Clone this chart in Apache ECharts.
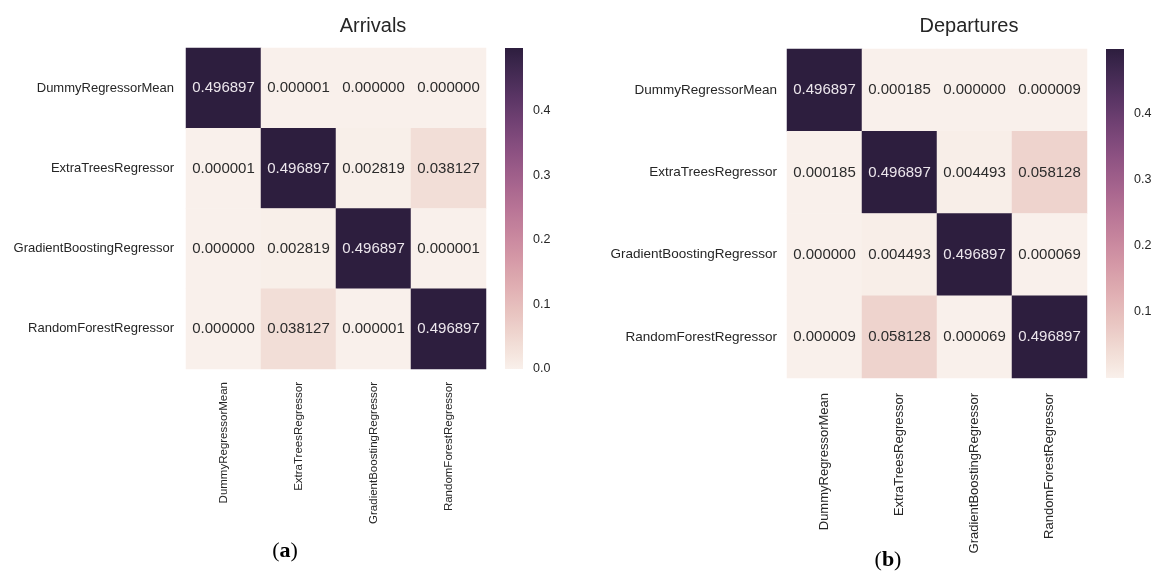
<!DOCTYPE html>
<html>
<head>
<meta charset="utf-8">
<script src="https://cdn.jsdelivr.net/npm/echarts@6/dist/echarts.min.js"></script>
<style>
  html, body { margin: 0; padding: 0; background: #ffffff; }
  #chart { width: 1155px; height: 573px; }
</style>
</head>
<body>
<div id="chart"></div>
<script>
// Model names shared by both matrices (rows top to bottom, columns left to right)
const models = ['DummyRegressorMean', 'ExtraTreesRegressor', 'GradientBoostingRegressor', 'RandomForestRegressor'];

// Pairwise values for arrivals, one array per row
const arrivalsRow0 = [0.496897, 0.000001, 0.000000, 0.000000];
const arrivalsRow1 = [0.000001, 0.496897, 0.002819, 0.038127];
const arrivalsRow2 = [0.000000, 0.002819, 0.496897, 0.000001];
const arrivalsRow3 = [0.000000, 0.038127, 0.000001, 0.496897];

// Pairwise values for departures, one array per row
const departuresRow0 = [0.496897, 0.000185, 0.000000, 0.000009];
const departuresRow1 = [0.000185, 0.496897, 0.004493, 0.058128];
const departuresRow2 = [0.000000, 0.004493, 0.496897, 0.000069];
const departuresRow3 = [0.000009, 0.058128, 0.000069, 0.496897];

// Colour scale range and colourbar ticks
const scaleMin = 0;
const scaleMax = 0.496897;
const colorbarTicks = [0.0, 0.1, 0.2, 0.3, 0.4];

const arrivals = [arrivalsRow0, arrivalsRow1, arrivalsRow2, arrivalsRow3];
const departures = [departuresRow0, departuresRow1, departuresRow2, departuresRow3];

// Light-to-dark cubehelix ramp (start 0, rot 0.4, hue 0.8, light 0.95, dark 0.15)
function cubehelix(x) {
  const a = 0.8 * x * (1 - x) / 2;
  const phi = 2 * Math.PI * (0.4 * x);
  const c = Math.cos(phi), s = Math.sin(phi);
  const ch = (p0, p1) => {
    const v = x + a * (p0 * c + p1 * s);
    return Math.round(Math.max(0, Math.min(1, v)) * 255);
  };
  return 'rgb(' + ch(-0.14861, 1.78277) + ',' + ch(-0.29227, -0.90649) + ',' + ch(1.97294, 0) + ')';
}
const rampSteps = 48;
const ramp = [];
for (let i = 0; i <= rampSteps; i++) {
  ramp.push(cubehelix(0.95 - 0.8 * i / rampSteps));
}
const gradientStops = ramp.map((c, i) => ({ offset: i / rampSteps, color: c }));

const ink = '#262626';
const sans = 'Liberation Sans, Arial, sans-serif';

function cells(matrix) {
  const out = [];
  matrix.forEach((row, r) => {
    row.forEach((v, c) => {
      out.push({
        value: [c, r, v],
        label: { color: v > (scaleMax - scaleMin) / 2 ? '#ece6ec' : '#2b2b2b' }
      });
    });
  });
  return out;
}

// Layout of each panel: heatmap grid + colourbar grid
const panels = [
  { grid: { left: 186, top: 48, width: 300, height: 321 }, bar: { left: 505, top: 48, width: 18, height: 321 },
    rowFont: 13, rowMargin: 12, colFont: 11.5, colMargin: 13, showZero: true, data: arrivals },
  { grid: { left: 787, top: 49, width: 300, height: 329 }, bar: { left: 1106, top: 49, width: 18, height: 329 },
    rowFont: 13.5, rowMargin: 10, colFont: 13, colMargin: 15, showZero: false, data: departures }
];

const grid = [], xAxis = [], yAxis = [], series = [];
panels.forEach((p, k) => {
  grid.push(p.grid, p.bar);
  const gi = k * 2, bi = k * 2 + 1;
  xAxis.push({
    type: 'category', gridIndex: gi, data: models,
    axisLine: { show: false }, axisTick: { show: false }, splitLine: { show: false },
    axisLabel: { rotate: 90, interval: 0, margin: p.colMargin, fontSize: p.colFont, color: ink, fontFamily: sans }
  }, {
    type: 'category', gridIndex: bi, data: ['scale'],
    axisLine: { show: false }, axisTick: { show: false }, axisLabel: { show: false }
  });
  yAxis.push({
    type: 'category', gridIndex: gi, data: models, inverse: true,
    axisLine: { show: false }, axisTick: { show: false }, splitLine: { show: false },
    axisLabel: { interval: 0, margin: p.rowMargin, fontSize: p.rowFont, color: ink, fontFamily: sans }
  }, {
    type: 'value', gridIndex: bi, position: 'right', min: scaleMin, max: scaleMax, interval: 0.1,
    axisLine: { show: false }, axisTick: { show: false }, splitLine: { show: false },
    axisLabel: {
      margin: 10, fontSize: 12.5, color: ink, fontFamily: sans, showMaxLabel: false,
      formatter: v => {
        const t = colorbarTicks.find(x => Math.abs(x - v) < 1e-9);
        if (t === undefined) return '';
        if (t === 0 && !p.showZero) return '';
        return t.toFixed(1);
      }
    }
  });
  series.push({
    type: 'heatmap', xAxisIndex: gi, yAxisIndex: gi, data: cells(p.data),
    label: { show: true, fontSize: 15, fontFamily: sans, formatter: q => q.value[2].toFixed(6) },
    emphasis: { disabled: true }
  }, {
    type: 'bar', xAxisIndex: bi, yAxisIndex: bi, data: [scaleMax], barWidth: '100%',
    itemStyle: { color: new echarts.graphic.LinearGradient(0, 1, 0, 0, gradientStops) },
    silent: true
  });
});

const chart = echarts.init(document.getElementById('chart'), null, { renderer: 'canvas' });
chart.setOption({
  backgroundColor: '#ffffff',
  animation: false,
  title: [
    { text: 'Arrivals', left: 368, top: 11, textAlign: 'center',
      textStyle: { fontSize: 20, fontWeight: 'normal', color: ink, fontFamily: sans } },
    { text: 'Departures', left: 964, top: 11, textAlign: 'center',
      textStyle: { fontSize: 20, fontWeight: 'normal', color: ink, fontFamily: sans } },
    { text: '({b|a})', left: 280, top: 535, textAlign: 'center',
      textStyle: { fontSize: 22, fontWeight: 'normal', color: '#000', fontFamily: 'Liberation Serif, serif',
        rich: { b: { fontSize: 22, fontWeight: 'bold', color: '#000', fontFamily: 'Liberation Serif, serif' } } } },
    { text: '({b|b})', left: 883, top: 544, textAlign: 'center',
      textStyle: { fontSize: 22, fontWeight: 'normal', color: '#000', fontFamily: 'Liberation Serif, serif',
        rich: { b: { fontSize: 22, fontWeight: 'bold', color: '#000', fontFamily: 'Liberation Serif, serif' } } } }
  ],
  visualMap: [{
    type: 'continuous', show: false, min: scaleMin, max: scaleMax, seriesIndex: [0, 2],
    inRange: { color: ramp }
  }],
  grid, xAxis, yAxis, series
});
</script>
</body>
</html>
